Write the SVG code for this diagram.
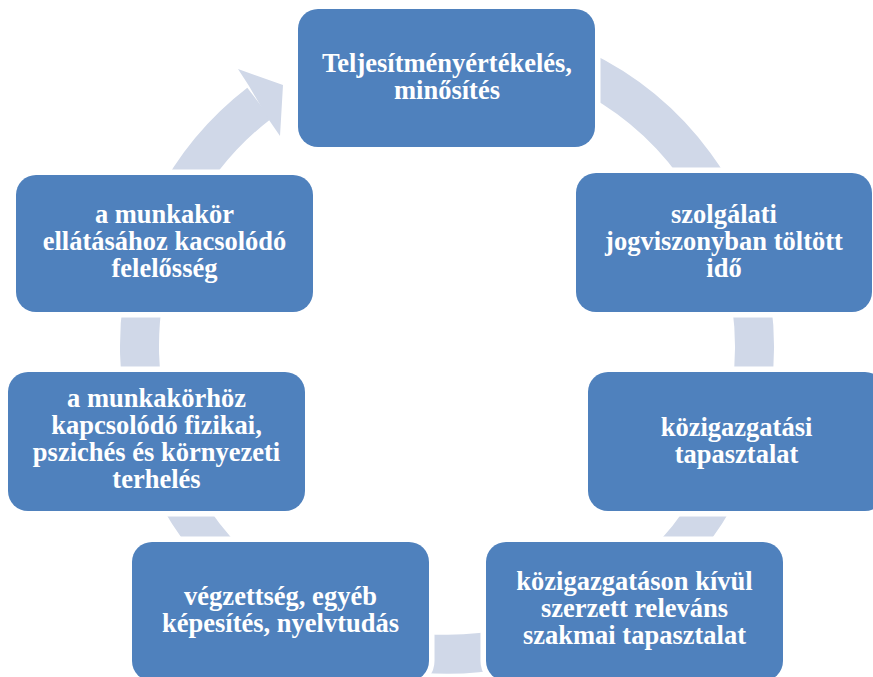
<svg xmlns="http://www.w3.org/2000/svg" width="873" height="677" viewBox="0 0 873 677">
<style>
.box{fill:#4F81BD;stroke:#FFFFFF;stroke-width:11;paint-order:stroke}
.t{font-family:"Liberation Serif","Times New Roman",serif;font-weight:bold;font-size:26.5px;fill:#FFFFFF;text-anchor:middle}
.ring{fill:none;stroke:#D0D8E8;stroke-width:39}
</style>
<rect width="873" height="677" fill="#FFFFFF"/>
<g id="connectors">
<path class="ring" d="M447,39.2 A307.5,307.5 0 1 1 259.2,103.2"/>
<polygon points="238,69 283,85 280,136 269,120 249,86" fill="#D0D8E8"/>
</g>
<g id="n1"><rect class="box" x="298" y="9" width="297" height="138" rx="20"/>
<text class="t" x="447" y="72">Teljesítményértékelés,</text><text class="t" x="447" y="99">minősítés</text></g>
<g id="n2"><rect class="box" x="576" y="173" width="296" height="139" rx="20"/>
<text class="t" x="724" y="223">szolgálati</text><text class="t" x="724" y="250">jogviszonyban töltött</text><text class="t" x="724" y="277">idő</text></g>
<g id="n3"><rect class="box" x="588" y="372" width="297" height="139" rx="20"/>
<text class="t" x="736.5" y="436">közigazgatási</text><text class="t" x="736.5" y="463">tapasztalat</text></g>
<g id="n4"><rect class="box" x="486" y="542" width="297" height="139" rx="20"/>
<text class="t" x="634.5" y="590">közigazgatáson kívül</text><text class="t" x="634.5" y="617">szerzett releváns</text><text class="t" x="634.5" y="644">szakmai tapasztalat</text></g>
<g id="n5"><rect class="box" x="132" y="542" width="297" height="139" rx="20"/>
<text class="t" x="280.5" y="605">végzettség, egyéb</text><text class="t" x="280.5" y="632">képesítés, nyelvtudás</text></g>
<g id="n6"><rect class="box" x="8" y="372" width="297" height="139" rx="20"/>
<text class="t" x="156.5" y="407">a munkakörhöz</text><text class="t" x="156.5" y="434">kapcsolódó fizikai,</text><text class="t" x="156.5" y="461">pszichés és környezeti</text><text class="t" x="156.5" y="488">terhelés</text></g>
<g id="n7"><rect class="box" x="16" y="175" width="297" height="137" rx="20"/>
<text class="t" x="164.5" y="223">a munkakör</text><text class="t" x="164.5" y="250">ellátásához kacsolódó</text><text class="t" x="164.5" y="277">felelősség</text></g>
</svg>
